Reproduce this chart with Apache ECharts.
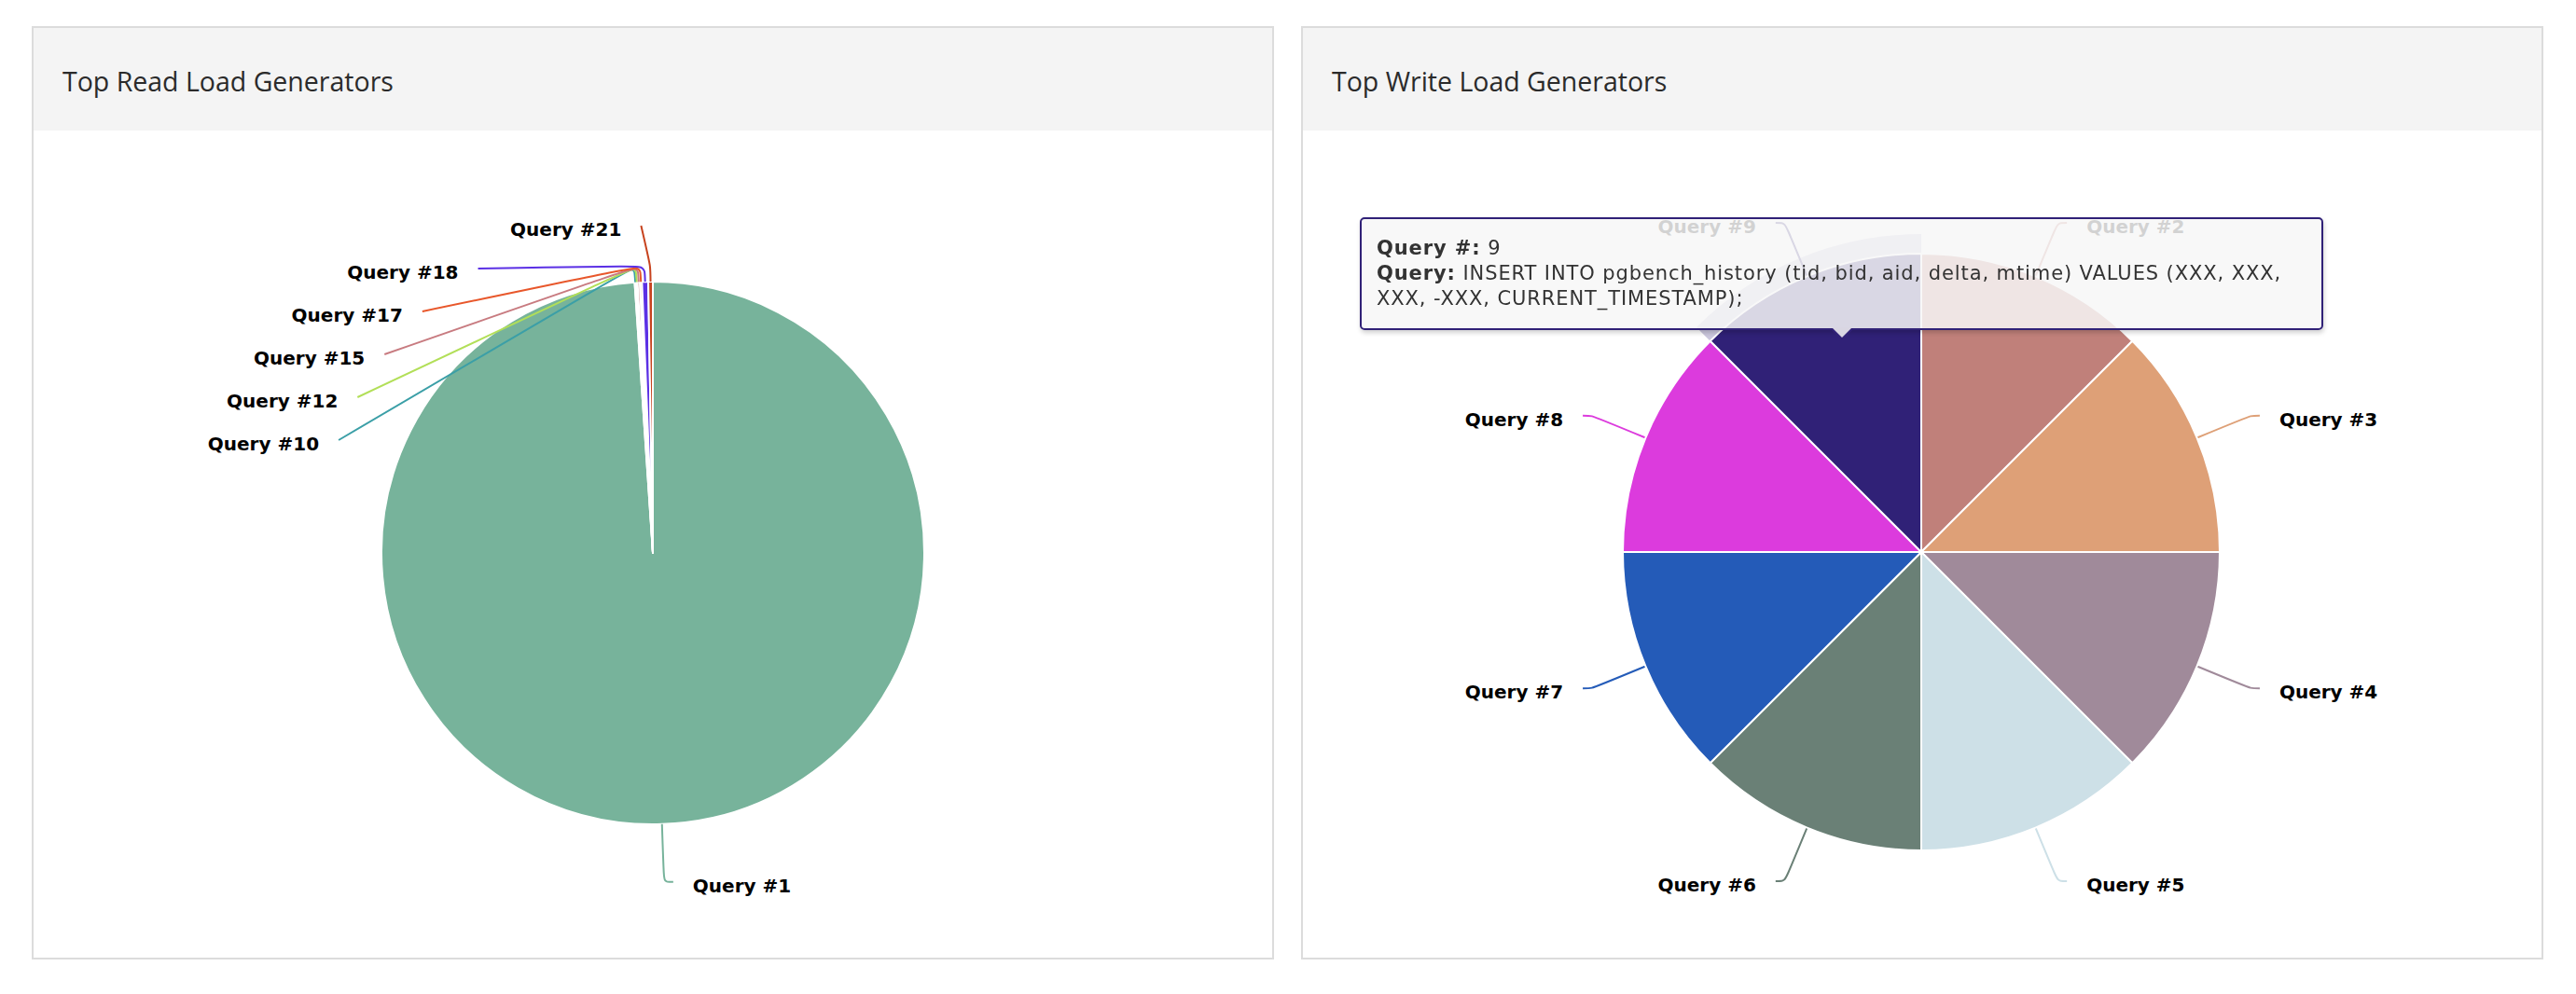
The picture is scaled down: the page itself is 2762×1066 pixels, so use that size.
<!DOCTYPE html>
<html>
<head>
<meta charset="utf-8">
<script src="https://cdn.jsdelivr.net/npm/echarts@6/dist/echarts.min.js"></script>
<style>
html, body { margin: 0; padding: 0; background: #ffffff; }
#main { width: 2762px; height: 1066px; }
</style>
</head>
<body>
<div id="main"></div>
<script>
// ---- data ----
const readTitle = 'Top Read Load Generators';
const writeTitle = 'Top Write Load Generators';

const readQueries = ['Query #1', 'Query #10', 'Query #12', 'Query #15', 'Query #17', 'Query #18', 'Query #21'];
const readValues  = [9893, 8, 9, 14, 12, 37, 27];
const readColors  = ['#77b39b', '#3b9fa7', '#b2df58', '#c87b80', '#e8572b', '#5b30e5', '#c7431e'];

const writeQueries = ['Query #2', 'Query #3', 'Query #4', 'Query #5', 'Query #6', 'Query #7', 'Query #8', 'Query #9'];
const writeValues  = [100, 100, 100, 100, 100, 100, 100, 100];
const writeColors  = ['#c0807a', '#dea077', '#a08a9a', '#cde0e7', '#6a8076', '#245bb8', '#dc3bdd', '#302177'];

const queryText = {
  '9': 'INSERT INTO pgbench_history (tid, bid, aid, delta, mtime) VALUES (XXX, XXX, XXX, -XXX, CURRENT_TIMESTAMP);'
};
const hoveredWrite = 7; // Query #9

// ---- layout constants ----
const READ_CENTER = [700, 593];
const READ_R = 291;
const WRITE_CENTER = [2060, 592];
const WRITE_R = 320;
const LABEL_DY = 4;

const chart = echarts.init(document.getElementById('main'), null, { renderer: 'svg', width: 2762, height: 1066 });

function sliceGeom(values, idx, center, r) {
  const total = values.reduce((a, b) => a + b, 0);
  let before = 0;
  for (let i = 0; i < idx; i++) before += values[i];
  const a0 = -Math.PI / 2 + before / total * 2 * Math.PI;
  const a1 = a0 + values[idx] / total * 2 * Math.PI;
  const mid = (a0 + a1) / 2;
  return { cx: center[0], cy: center[1], r: r, dx: Math.cos(mid), dy: Math.sin(mid) };
}

function shiftLabel(p) {
  const out = { dy: LABEL_DY };
  if (p.labelLinePoints) out.labelLinePoints = p.labelLinePoints;
  return out;
}

function readLabelLayout(p) {
  const idx = p.dataIndex;
  const g = sliceGeom(readValues, idx, READ_CENTER, READ_R);
  if (g.dx >= 0) return shiftLabel(p);
  const leftIdx = readValues.map((v, i) => i).filter(i => sliceGeom(readValues, i, READ_CENTER, READ_R).dx < 0);
  const rank = leftIdx.length - 1 - leftIdx.indexOf(idx);
  const p0 = [g.cx + g.r * g.dx, g.cy + g.r * g.dy];
  const p1 = [g.cx + (g.r + 17) * g.dx, g.cy + (g.r + 17) * g.dy];
  const ly = g.cy - (g.r + 60) + rank * 46;
  const R = g.r + 67;
  const h = ly - g.cy;
  let lx = g.cx - Math.sqrt(Math.max(R * R - h * h, 0));
  if (ly < p1[1] - 20) lx = p1[0] - 10;
  return {
    x: lx - 21, y: ly + LABEL_DY, align: 'right', verticalAlign: 'middle',
    labelLinePoints: [p0, p1, [lx, ly]]
  };
}

const labelStyle = {
  show: true,
  position: 'outside',
  color: '#000',
  fontFamily: 'DejaVu Sans',
  fontWeight: 'bold',
  fontSize: 20,
  distanceToLabelLine: 21
};
const labelLineStyle = {
  show: true, length: 62, length2: 10, smooth: 0.3,
  lineStyle: { width: 2 }
};

function panel(x, title) {
  return [
    { type: 'rect', shape: { x: x + 1, y: 29, width: 1330, height: 999 },
      style: { fill: '#ffffff', stroke: '#dcdcdc', lineWidth: 2 }, z: 0 },
    { type: 'rect', shape: { x: x + 2, y: 30, width: 1328, height: 110 },
      style: { fill: '#f4f4f4' }, z: 1 },
    { type: 'text', x: x + 33, y: 87, z: 2,
      style: { text: title, fontSize: 28.5, fontWeight: 500, fontFamily: 'Open Sans', fill: '#2b2b2b', verticalAlign: 'middle', align: 'left' } }
  ];
}

const option = {
  animation: false,
  backgroundColor: '#ffffff',
  graphic: { elements: panel(34, readTitle).concat(panel(1395, writeTitle)) },
  tooltip: {
    trigger: 'item',
    triggerOn: 'none',
    alwaysShowContent: true,
    transitionDuration: 0,
    backgroundColor: 'rgba(247,247,247,0.85)',
    borderColor: writeColors[hoveredWrite],
    borderWidth: 2,
    borderRadius: 5,
    padding: [18, 16],
    extraCssText: 'box-shadow: 1px 3px 5px rgba(0,0,0,0.18); white-space: normal;',
    position: function (pt, params, dom, rect, size) {
      const g = sliceGeom(writeValues, params.dataIndex, WRITE_CENTER, WRITE_R);
      const ax = g.cx + 0.7 * g.r * g.dx;
      const ay = g.cy + 0.7 * g.r * g.dy;
      const w = size.contentSize[0], hgt = size.contentSize[1];
      return [ax - w / 2, ay - 31 - hgt];
    },
    formatter: function (params) {
      const num = params.name.replace('Query #', '');
      const txt = queryText[num] || '';
      return '<div style="font-family:\'DejaVu Sans\';font-size:21px;line-height:27px;color:#333;letter-spacing:0.9px;width:997px;white-space:normal;">' +
        '<b>Query #:</b> ' + num + '<br><b>Query:</b> ' + txt + '</div>' +
        '<div style="position:absolute;left:50%;bottom:-13px;margin-left:-13px;width:0;height:0;border-left:13px solid transparent;border-right:13px solid transparent;border-top:13px solid ' + writeColors[hoveredWrite] + ';"></div>' +
        '<div style="position:absolute;left:50%;bottom:-10px;margin-left:-11px;width:0;height:0;border-left:11px solid transparent;border-right:11px solid transparent;border-top:11px solid rgb(217,214,226);"></div>';
    }
  },
  series: [
    {
      // read pie: slices
      type: 'pie',
      name: 'read',
      center: READ_CENTER,
      radius: READ_R,
      startAngle: 90,
      clockwise: true,
      silent: true,
      z: 2,
      emphasis: { disabled: true },
      itemStyle: { borderColor: '#ffffff', borderWidth: 2 },
      label: { show: false },
      labelLine: { show: false },
      data: readQueries.map((n, i) => ({ name: n, value: readValues[i], itemStyle: { color: readColors[i] } }))
    },
    {
      type: 'pie',
      name: 'halo',
      center: WRITE_CENTER,
      radius: [WRITE_R, WRITE_R + 21],
      startAngle: 90,
      clockwise: true,
      silent: true,
      z: 2,
      emphasis: { disabled: true },
      label: { show: false },
      labelLine: { show: false },
      tooltip: { show: false },
      data: writeQueries.map((n, i) => ({
        name: n, value: writeValues[i],
        itemStyle: { color: i === hoveredWrite ? 'rgba(48,33,119,0.25)' : 'rgba(0,0,0,0)', borderWidth: 0 }
      }))
    },
    {
      type: 'pie',
      name: 'write',
      center: WRITE_CENTER,
      radius: WRITE_R,
      startAngle: 90,
      clockwise: true,
      z: 3,
      emphasis: { disabled: true },
      itemStyle: { borderColor: '#ffffff', borderWidth: 2 },
      label: labelStyle,
      labelLine: labelLineStyle,
      labelLayout: shiftLabel,
      data: writeQueries.map((n, i) => ({ name: n, value: writeValues[i], itemStyle: { color: writeColors[i] } }))
    },
    {
      // read pie: labels and connectors drawn above the slices
      type: 'pie',
      name: 'readLabels',
      center: READ_CENTER,
      radius: READ_R,
      startAngle: 90,
      clockwise: true,
      silent: true,
      z: 4,
      emphasis: { disabled: true },
      itemStyle: { color: 'rgba(0,0,0,0)', borderWidth: 0 },
      label: labelStyle,
      labelLine: labelLineStyle,
      labelLayout: readLabelLayout,
      tooltip: { show: false },
      data: readQueries.map((n, i) => ({
        name: n, value: readValues[i],
        labelLine: { lineStyle: { color: readColors[i], width: 2 } }
      }))
    }
  ]
};

chart.setOption(option);
chart.dispatchAction({ type: 'showTip', seriesIndex: 2, dataIndex: hoveredWrite });
setTimeout(function () {
  chart.dispatchAction({ type: 'showTip', seriesIndex: 2, dataIndex: hoveredWrite });
}, 50);
</script>
</body>
</html>
